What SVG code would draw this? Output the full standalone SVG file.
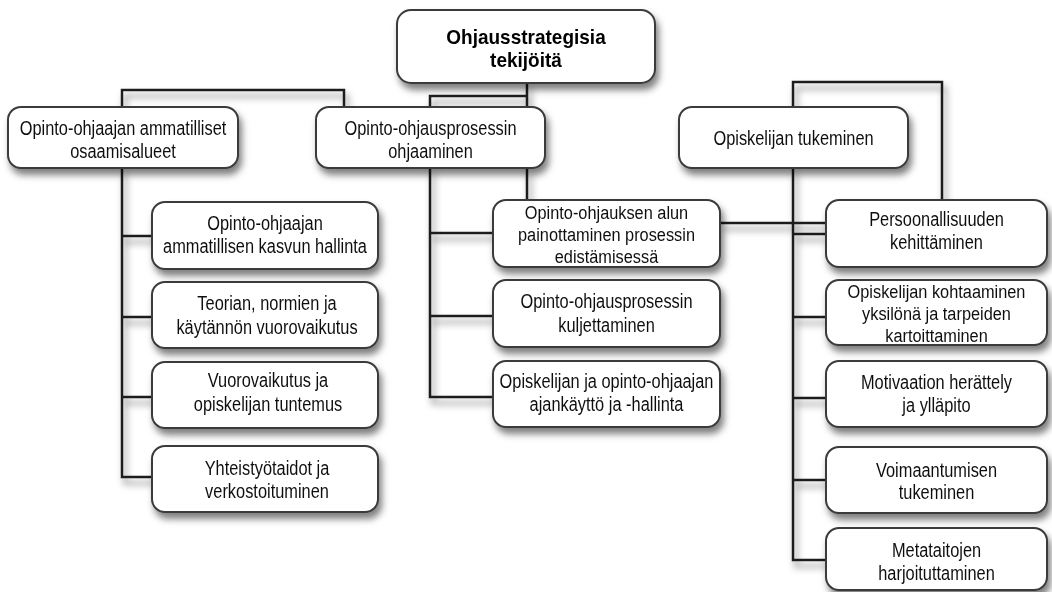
<svg xmlns="http://www.w3.org/2000/svg" width="1052" height="592" viewBox="0 0 1052 592">
<defs>
<filter id="sh" x="-10%" y="-20%" width="130%" height="160%">
<feDropShadow dx="3" dy="6" stdDeviation="3.5" flood-color="#000" flood-opacity="0.5"/>
</filter>
<style>
.box{fill:#fff;stroke:#3a3a3a;stroke-width:2}
.con{fill:none;stroke:#1e1e1e;stroke-width:2.5;stroke-linejoin:miter}
.t{font-family:"Liberation Sans",Arial,sans-serif;font-size:21px;fill:#111;text-anchor:middle}
.t3{font-family:"Liberation Sans",Arial,sans-serif;font-size:19px;fill:#111;text-anchor:middle}
.b{font-family:"Liberation Sans",Arial,sans-serif;font-size:20px;font-weight:bold;fill:#000;text-anchor:middle}
</style>
</defs>
<rect width="1052" height="592" fill="#fff"/>
<g id="connectors" filter="url(#sh)">
<path class="con" d="M527,83 V107 M527,96 H430 V107"/>
<path class="con" d="M122,107 V90 H344 V107"/>
<path class="con" d="M122,168 V477 H152 M122,236 H152 M122,317 H152 M122,397 H152"/>
<path class="con" d="M430,168 V397 H493 M430,233 H493 M430,316 H493"/>
<path class="con" d="M527,168 V200"/>
<path class="con" d="M793,107 V82 H942 V200"/>
<path class="con" d="M793,168 V560 H826 M793,234 H826 M793,317 H826 M793,398 H826 M793,480 H826"/>
<path class="con" d="M720,223 H826"/>
</g>
<g id="root" filter="url(#sh)">
<rect class="box" x="397" y="10" width="258" height="73" rx="14"/>
<text class="b" transform="translate(526,0) scale(0.95,1)"><tspan x="0" y="44">Ohjausstrategisia</tspan><tspan x="0" y="67">tekijöitä</tspan></text>
</g>
<g id="n-ammatilliset" filter="url(#sh)">
<rect class="box" x="8" y="107" width="230" height="61" rx="13"/>
<text class="t" transform="translate(123,0) scale(0.78,1)"><tspan x="0" y="135">Opinto-ohjaajan ammatilliset</tspan><tspan x="0" y="158">osaamisalueet</tspan></text>
</g>
<g id="n-prosessi" filter="url(#sh)">
<rect class="box" x="316" y="107" width="229" height="61" rx="13"/>
<text class="t" transform="translate(430.5,0) scale(0.78,1)"><tspan x="0" y="135">Opinto-ohjausprosessin</tspan><tspan x="0" y="158">ohjaaminen</tspan></text>
</g>
<g id="n-tukeminen" filter="url(#sh)">
<rect class="box" x="679" y="107" width="229" height="61" rx="13"/>
<text class="t" transform="translate(793.5,0) scale(0.78,1)"><tspan x="0" y="145">Opiskelijan tukeminen</tspan></text>
</g>
<g id="n-kasvu" filter="url(#sh)">
<rect class="box" x="152" y="202" width="226" height="67" rx="13"/>
<text class="t" transform="translate(265,0) scale(0.78,1)"><tspan x="0" y="230">Opinto-ohjaajan</tspan><tspan x="0" y="253">ammatillisen kasvun hallinta</tspan></text>
</g>
<g id="n-teoria" filter="url(#sh)">
<rect class="box" x="152" y="282" width="226" height="66" rx="13"/>
<text class="t" transform="translate(267,0) scale(0.78,1)"><tspan x="0" y="310">Teorian, normien ja</tspan><tspan x="0" y="334">käytännön vuorovaikutus</tspan></text>
</g>
<g id="n-vuorovaikutus" filter="url(#sh)">
<rect class="box" x="152" y="362" width="226" height="66" rx="13"/>
<text class="t" transform="translate(268,0) scale(0.78,1)"><tspan x="0" y="387">Vuorovaikutus ja</tspan><tspan x="0" y="411">opiskelijan tuntemus</tspan></text>
</g>
<g id="n-yhteistyo" filter="url(#sh)">
<rect class="box" x="152" y="446" width="226" height="66" rx="13"/>
<text class="t" transform="translate(267,0) scale(0.78,1)"><tspan x="0" y="475">Yhteistyötaidot ja</tspan><tspan x="0" y="498">verkostoituminen</tspan></text>
</g>
<g id="n-alku" filter="url(#sh)">
<rect class="box" x="493" y="200" width="227" height="67" rx="13"/>
<text class="t3" transform="translate(606.5,0) scale(0.86,1)"><tspan x="0" y="219">Opinto-ohjauksen alun</tspan><tspan x="0" y="241">painottaminen prosessin</tspan><tspan x="0" y="263">edistämisessä</tspan></text>
</g>
<g id="n-kuljettaminen" filter="url(#sh)">
<rect class="box" x="493" y="280" width="227" height="67" rx="13"/>
<text class="t" transform="translate(606.5,0) scale(0.78,1)"><tspan x="0" y="308">Opinto-ohjausprosessin</tspan><tspan x="0" y="332">kuljettaminen</tspan></text>
</g>
<g id="n-ajankaytto" filter="url(#sh)">
<rect class="box" x="493" y="361" width="227" height="66" rx="13"/>
<text class="t" transform="translate(606.5,0) scale(0.78,1)"><tspan x="0" y="388">Opiskelijan ja opinto-ohjaajan</tspan><tspan x="0" y="411">ajankäyttö ja -hallinta</tspan></text>
</g>
<g id="n-persoonallisuus" filter="url(#sh)">
<rect class="box" x="826" y="200" width="221" height="67" rx="13"/>
<text class="t" transform="translate(936.5,0) scale(0.78,1)"><tspan x="0" y="226">Persoonallisuuden</tspan><tspan x="0" y="249">kehittäminen</tspan></text>
</g>
<g id="n-kohtaaminen" filter="url(#sh)">
<rect class="box" x="826" y="280" width="221" height="65" rx="13"/>
<text class="t3" transform="translate(936.5,0) scale(0.86,1)"><tspan x="0" y="298">Opiskelijan kohtaaminen</tspan><tspan x="0" y="320">yksilönä ja tarpeiden</tspan><tspan x="0" y="342">kartoittaminen</tspan></text>
</g>
<g id="n-motivaatio" filter="url(#sh)">
<rect class="box" x="826" y="361" width="221" height="66" rx="13"/>
<text class="t" transform="translate(936.5,0) scale(0.78,1)"><tspan x="0" y="389">Motivaation herättely</tspan><tspan x="0" y="412">ja ylläpito</tspan></text>
</g>
<g id="n-voimaantuminen" filter="url(#sh)">
<rect class="box" x="826" y="447" width="221" height="66" rx="13"/>
<text class="t" transform="translate(936.5,0) scale(0.78,1)"><tspan x="0" y="477">Voimaantumisen</tspan><tspan x="0" y="499">tukeminen</tspan></text>
</g>
<g id="n-metataidot" filter="url(#sh)">
<rect class="box" x="826" y="528" width="221" height="62" rx="13"/>
<text class="t" transform="translate(936.5,0) scale(0.78,1)"><tspan x="0" y="557">Metataitojen</tspan><tspan x="0" y="580">harjoituttaminen</tspan></text>
</g>
</svg>
